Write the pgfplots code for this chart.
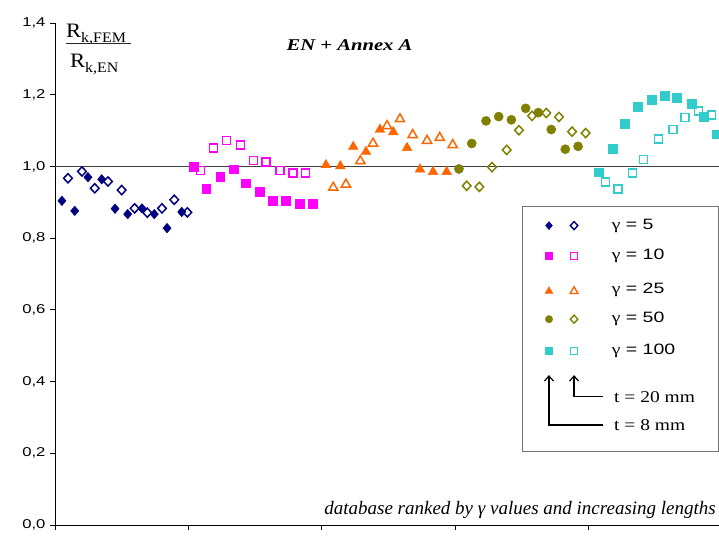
\documentclass[border=0pt]{standalone}
\usepackage{pgfplots}
\pgfplotsset{compat=1.18}
\usepackage{fontspec}
\usepackage{graphicx}
\setmainfont{Liberation Serif}
\newfontfamily\arial{Liberation Sans}
\usetikzlibrary{arrows.meta}
\definecolor{cnavy}{RGB}{0,0,128}
\definecolor{cmag}{RGB}{255,0,255}
\definecolor{corange}{RGB}{255,102,0}
\definecolor{colive}{RGB}{128,128,0}
\definecolor{ccyan}{RGB}{51,204,204}
\newcommand{\gl}[1]{\scalebox{1.3}[1]{\fontsize{15}{17}\selectfont γ\arial{} = #1}}
\begin{document}
\begin{tikzpicture}
\begin{axis}[
  at={(55pt,11pt)}, anchor=south west,
  scale only axis, width=667pt, height=502pt,
  xmin=0, xmax=50, ymin=0, ymax=1.4,
  axis lines*=left,
  axis line style={black, line width=0.9pt},
  xtick={0,10,...,50}, xticklabels={},
  ytick={0,0.2,...,1.4},
  tick align=outside, major tick length=5pt,
  tick style={black, line width=0.9pt},
  yticklabel style={font=\arial\fontsize{12.8}{14}\selectfont, xscale=1.3},
  /pgf/number format/.cd, use comma, fixed, fixed zerofill, precision=1, assume math mode=true,
  /pgfplots/.cd,
  clip=false,
]
% reference line at 1.0
\addplot[draw=black!75, line width=1.5pt, forget plot] coordinates {(0,1) (50,1)};

% gamma = 5
\addplot[only marks, mark=diamond*, mark size=4.8pt, color=cnavy, mark options={xscale=1.15}] coordinates {
(0.52,0.904) (1.48,0.876) (2.47,0.970) (3.50,0.964) (4.50,0.882) (5.45,0.867) (6.52,0.883) (7.44,0.867) (8.40,0.828) (9.50,0.873)};
\addplot[only marks, mark=diamond, mark size=4.6pt, color=cnavy, mark options={line width=1.5pt, xscale=1.25}] coordinates {
(0.97,0.967) (2.02,0.986) (2.98,0.939) (3.97,0.958) (5.00,0.934) (5.97,0.883) (6.92,0.871) (8.02,0.883) (8.94,0.907) (9.92,0.872)};
% gamma = 10
\addplot[only marks, mark=square*, mark size=4.4pt, color=cmag] coordinates {
(10.37,0.999) (11.34,0.937) (12.39,0.971) (13.37,0.992) (14.32,0.953) (15.37,0.929) (16.34,0.905) (17.29,0.905) (18.37,0.897) (19.32,0.897)};
\addplot[only marks, mark=square, mark size=4pt, color=cmag, mark options={line width=1.5pt}] coordinates {
(10.92,0.988) (11.90,1.051) (12.84,1.072) (13.89,1.060) (14.87,1.016) (15.82,1.012) (16.87,0.988) (17.84,0.981) (18.79,0.981)};
% gamma = 25
\addplot[only marks, mark=triangle*, mark size=5.6pt, color=corange] coordinates {
(20.31,1.004) (21.39,1.001) (22.36,1.055) (23.31,1.041) (24.36,1.103) (25.36,1.096) (26.39,1.052) (27.36,0.992) (28.34,0.985) (29.36,0.985)};
\addplot[only marks, mark=triangle, mark size=5.3pt, color=corange, mark options={line width=1.5pt}] coordinates {
(20.86,0.941) (21.81,0.950) (22.89,1.015) (23.84,1.064) (24.89,1.113) (25.86,1.132) (26.81,1.088) (27.89,1.072) (28.84,1.080) (29.81,1.060)};
% gamma = 50
\addplot[only marks, mark=*, mark size=4.6pt, color=colive] coordinates {
(30.28,0.993) (31.24,1.064) (32.31,1.127) (33.26,1.139) (34.21,1.130) (35.28,1.162) (36.23,1.150) (37.20,1.103) (38.25,1.048) (39.21,1.056)};
\addplot[only marks, mark=diamond, mark size=4.6pt, color=colive, mark options={line width=1.5pt, xscale=1.25}] coordinates {
(30.86,0.946) (31.81,0.943) (32.76,0.998) (33.86,1.046) (34.78,1.101) (35.76,1.141) (36.83,1.149) (37.78,1.138) (38.76,1.097) (39.78,1.093)};
% gamma = 100
\addplot[only marks, mark=square*, mark size=4.4pt, color=ccyan] coordinates {
(40.73,0.984) (41.78,1.049) (42.73,1.119) (43.68,1.166) (44.75,1.187) (45.68,1.198) (46.63,1.191) (47.71,1.175) (48.65,1.139) (49.60,1.090)};
\addplot[only marks, mark=square, mark size=4pt, color=ccyan, mark options={line width=1.5pt}] coordinates {
(41.27,0.957) (42.20,0.937) (43.30,0.981) (44.13,1.020) (45.25,1.076) (46.32,1.103) (47.22,1.136) (48.23,1.155) (49.22,1.143) (50.12,1.106)};

% legend box
\draw[black!55, line width=1pt, fill=white] (axis cs:35.08,0.2036) rectangle (axis cs:49.75,0.887);
% legend markers
\addplot[only marks, mark=diamond*, mark size=4pt, color=cnavy, mark options={xscale=1.15}, forget plot] coordinates {(37.03,0.835)};
\addplot[only marks, mark=diamond, mark size=4pt, color=cnavy, mark options={line width=1.4pt, xscale=1.25}, forget plot] coordinates {(38.91,0.835)};
\addplot[only marks, mark=square*, mark size=3.6pt, color=cmag, forget plot] coordinates {(37.03,0.750)};
\addplot[only marks, mark=square, mark size=3.5pt, color=cmag, mark options={line width=1.4pt}, forget plot] coordinates {(38.91,0.750)};
\addplot[only marks, mark=triangle*, mark size=4.6pt, color=corange, forget plot] coordinates {(37.03,0.652)};
\addplot[only marks, mark=triangle, mark size=4.5pt, color=corange, mark options={line width=1.4pt}, forget plot] coordinates {(38.91,0.652)};
\addplot[only marks, mark=*, mark size=3.7pt, color=colive, forget plot] coordinates {(37.03,0.574)};
\addplot[only marks, mark=diamond, mark size=4pt, color=colive, mark options={line width=1.4pt, xscale=1.25}, forget plot] coordinates {(38.91,0.574)};
\addplot[only marks, mark=square*, mark size=3.6pt, color=ccyan, forget plot] coordinates {(37.03,0.485)};
\addplot[only marks, mark=square, mark size=3.5pt, color=ccyan, mark options={line width=1.4pt}, forget plot] coordinates {(38.91,0.485)};
% legend texts
\node[anchor=west, inner sep=0pt] at (axis cs:41.73,0.835) {\gl{5}};
\node[anchor=west, inner sep=0pt] at (axis cs:41.73,0.750) {\gl{10}};
\node[anchor=west, inner sep=0pt] at (axis cs:41.73,0.657) {\gl{25}};
\node[anchor=west, inner sep=0pt] at (axis cs:41.73,0.574) {\gl{50}};
\node[anchor=west, inner sep=0pt] at (axis cs:41.73,0.485) {\gl{100}};
% arrows
\draw[line width=1.2pt, -{Straight Barb[length=5pt,width=9pt]}] (axis cs:41.08,0.279) -- (axis cs:37.03,0.279) -- (axis cs:37.03,0.418);
\draw[line width=1.2pt, -{Straight Barb[length=5pt,width=9pt]}] (axis cs:41.08,0.358) -- (axis cs:38.91,0.358) -- (axis cs:38.91,0.418);
\node[anchor=west, inner sep=0pt] at (axis cs:41.9,0.358) {\scalebox{1.18}[1]{\fontsize{16.5}{18}\selectfont t = 20 mm}};
\node[anchor=west, inner sep=0pt] at (axis cs:41.9,0.279) {\scalebox{1.18}[1]{\fontsize{16.5}{18}\selectfont t = 8 mm}};

% title
\node[inner sep=0pt] at (axis cs:22.08,1.3385) {\scalebox{1.25}[1]{\fontsize{16.5}{18}\selectfont\bfseries\itshape EN + Annex A}};
% y label fraction
\node[anchor=base west, inner sep=0pt] at (axis cs:0.82,1.359) {\scalebox{1.1}[1]{\fontsize{20.5}{22}\selectfont R\raisebox{-4.6pt}{\fontsize{14.5}{15}\selectfont k,FEM}}};
\draw[black!85, line width=1pt] (axis cs:0.82,1.343) -- (axis cs:5.70,1.343);
\node[anchor=base west, inner sep=0pt] at (axis cs:1.12,1.276) {\scalebox{1.1}[1]{\fontsize{20.5}{22}\selectfont R\raisebox{-4.6pt}{\fontsize{14.5}{15}\selectfont k,EN}}};
% bottom note
\node[anchor=base east, inner sep=0pt] at (axis cs:49.55,0.0279) {\fontsize{19}{21}\selectfont\itshape database ranked by γ values and increasing lengths};
\end{axis}
\pgfresetboundingbox
\path (0,0) rectangle (719pt,536pt);
\end{tikzpicture}
\end{document}
